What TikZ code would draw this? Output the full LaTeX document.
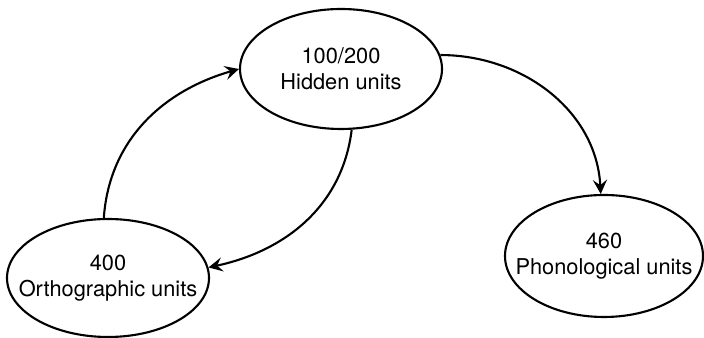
\documentclass[tikz,border=0pt]{standalone}
\usepackage{fontspec}
\setmainfont{TeX Gyre Heros}
\usetikzlibrary{shapes.geometric,arrows.meta}
\tikzset{
  unit/.style={draw, ellipse, inner sep=0pt, line width=1.2pt},
  unittext/.style={align=center, font=\fontsize{12.4}{14.6}\selectfont},
}
\begin{document}
\begin{tikzpicture}
      \useasboundingbox (0,0) rectangle (14.08,6.76);
      \draw
        (6.82,5.38) node[unit, minimum width=4.04cm, minimum height=2.4cm,
          label={[unittext]center:100/200\\Hidden units}] (hid){}
        (2.16,1.20) node[unit, minimum width=4.04cm, minimum height=2.36cm,
          label={[unittext]center:400\\Orthographic units}] (orth){}
        (12.08,1.64) node[unit, minimum width=3.96cm, minimum height=2.44cm,
          label={[unittext]center:460\\Phonological units}] (phon){};
      \begin{scope}[-{Stealth[length=8pt,width=8pt,inset=3pt]}, line width=1.2pt]
        \draw (orth.94) to[out=86, in=196] (hid.west);
        \draw (hid.-80) to[out=-97, in=12] (orth.6);
        \draw (hid.8) to[out=0, in=93] (phon.93);
      \end{scope}
    \end{tikzpicture}
\end{document}
